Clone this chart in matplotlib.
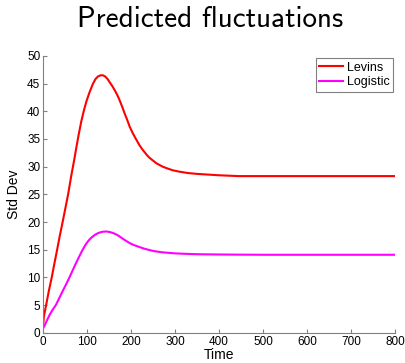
import matplotlib
matplotlib.use("Agg")
import matplotlib.pyplot as plt

# values
t_levins = [0, 2, 7, 13, 20, 26, 32, 38, 44.5, 51, 57, 64, 71, 76, 81, 87, 93, 99,
            106, 113, 119, 125, 131, 136, 141, 146, 151, 157, 163, 169, 174, 180,
            186, 192, 197, 203, 209, 214, 219, 225, 231, 236, 242, 250, 258, 265,
            272, 282, 295, 310, 330, 350, 370, 400, 445, 500, 600, 700, 800]
levins = [1.2, 3.0, 5.0, 7.5, 10.1, 12.6, 15.0, 17.5, 20.0, 22.6, 25.0, 28.3, 31.3,
          33.6, 35.8, 38.2, 40.2, 41.9, 43.5, 44.9, 45.8, 46.3, 46.5, 46.5, 46.3,
          45.9, 45.3, 44.6, 43.8, 42.9, 42.0, 40.8, 39.5, 38.3, 37.2, 36.2, 35.3,
          34.6, 33.9, 33.2, 32.6, 32.1, 31.6, 31.1, 30.6, 30.3, 30.0, 29.7, 29.35,
          29.1, 28.85, 28.7, 28.6, 28.45, 28.3, 28.3, 28.3, 28.3, 28.3]

t_logistic = [0, 4, 8, 15, 22, 29, 37, 45, 52, 60, 68, 75, 83, 90, 95, 100, 105,
              110, 118, 126, 135, 144, 152, 160, 168, 175, 181, 188, 195, 202, 210,
              219, 228, 237, 247, 257, 270, 285, 300, 320, 350, 400, 450, 500, 600,
              700, 800]
logistic = [0.8, 1.4, 2.1, 3.25, 4.2, 5.0, 6.3, 7.6, 8.7, 10.0, 11.4, 12.6, 13.9,
            15.0, 15.7, 16.3, 16.8, 17.2, 17.7, 18.05, 18.25, 18.3, 18.2, 18.0, 17.7,
            17.35, 17.0, 16.65, 16.3, 16.0, 15.75, 15.5, 15.25, 15.05, 14.85, 14.7,
            14.55, 14.45, 14.35, 14.28, 14.2, 14.15, 14.12, 14.1, 14.1, 14.1, 14.1]

xticks = [0, 100, 200, 300, 400, 500, 600, 700, 800]
yticks = [0, 5, 10, 15, 20, 25, 30, 35, 40, 45, 50]

plt.rcParams['font.family'] = ['Liberation Sans', 'DejaVu Sans']

fig = plt.figure(figsize=(4.06, 3.63), dpi=100)
ax = fig.add_axes([0.106, 0.083, 0.867, 0.763])

ax.plot(t_levins, levins, color='#ff0000', lw=1.5, label='Levins')
ax.plot(t_logistic, logistic, color='#ff00ff', lw=1.5, label='Logistic')

ax.set_xlim(0, 800)
ax.set_ylim(0, 50)
ax.set_xticks(xticks)
ax.set_yticks(yticks)
ax.tick_params(direction='in', length=3, color='#808080', labelsize=8.5, pad=2)
for s in ['top', 'right']:
    ax.spines[s].set_visible(False)
for s in ['left', 'bottom']:
    ax.spines[s].set_color('#808080')
    ax.spines[s].set_linewidth(0.8)

ax.set_xlabel('Time', fontsize=10, labelpad=0)
ax.set_ylabel('Std Dev', fontsize=10, labelpad=4)

leg = ax.legend(loc='upper right', bbox_to_anchor=(0.995, 0.993), borderaxespad=0,
                fontsize=9, fancybox=False, framealpha=1, edgecolor='#808080',
                handlelength=1.9, borderpad=0.3, labelspacing=0.2,
                handletextpad=0.3)
leg.get_frame().set_linewidth(0.8)

fig.text(0.518, 0.945, 'Predicted fluctuations', fontsize=21, family='cmss10',
         ha='center', va='center')

fig.savefig('out.png', dpi=100)
